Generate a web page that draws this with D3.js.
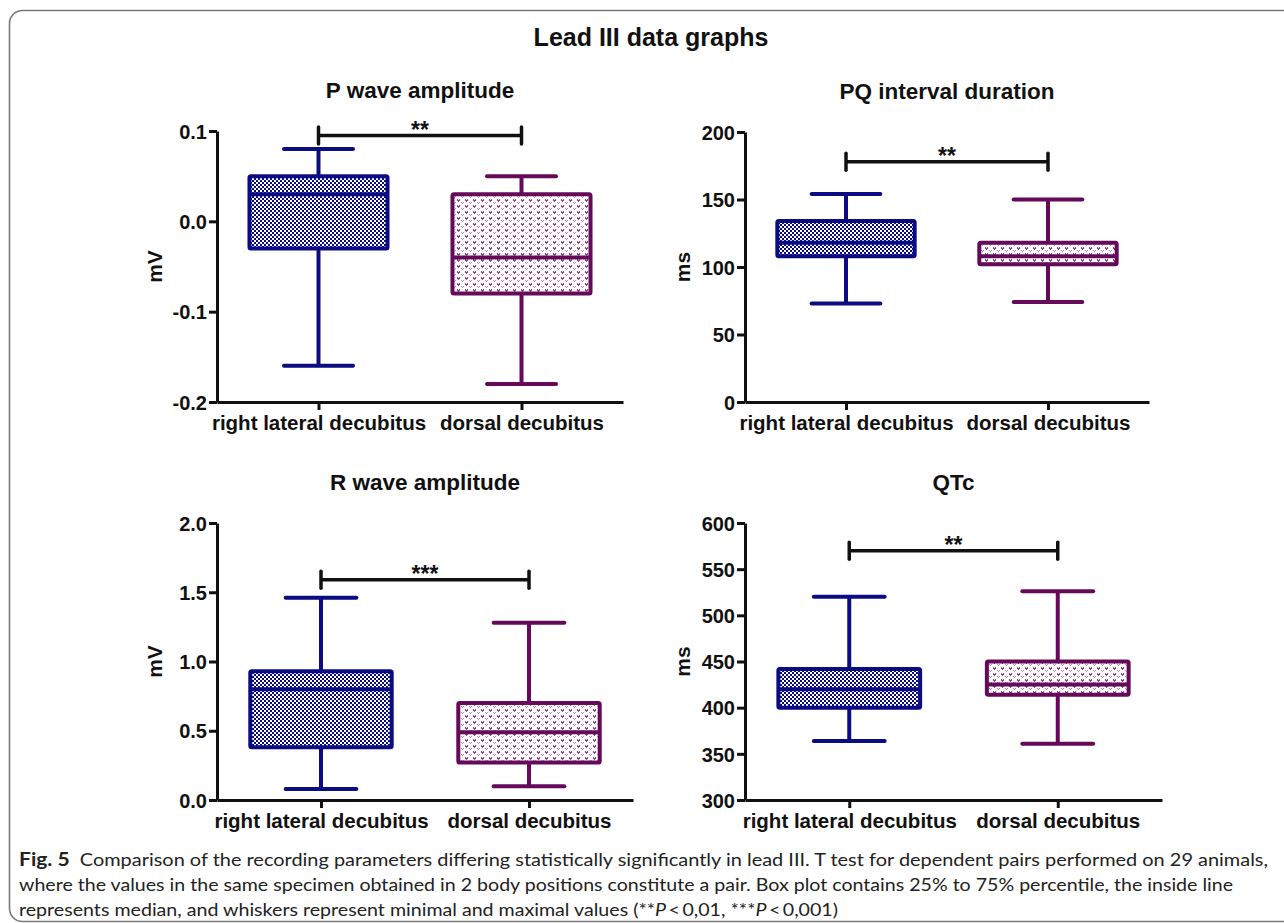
<!DOCTYPE html>
<html>
<head>
<meta charset="utf-8">
<script src="https://cdn.jsdelivr.net/npm/d3@7"></script>
<style>
  html, body { margin: 0; padding: 0; background: #fff; }
  svg { display: block; }
  text { font-family: "Liberation Sans", Arial, sans-serif; }
</style>
</head>
<body>
<script>
// ---------------- DATA ----------------
const categories = ["right lateral decubitus", "dorsal decubitus"];
// each box: [min, q1, median, q3, max]
const pWaveRight  = [-0.16, -0.03, 0.03, 0.05, 0.08];
const pWaveDorsal = [-0.18, -0.08, -0.04, 0.03, 0.05];
const pqRight     = [73, 108, 118, 134, 154];
const pqDorsal    = [74, 102, 108, 118, 150];
const rWaveRight  = [0.08, 0.38, 0.80, 0.93, 1.46];
const rWaveDorsal = [0.10, 0.27, 0.49, 0.70, 1.28];
const qtcRight    = [364, 400, 420, 442, 520];
const qtcDorsal   = [361, 414, 425, 450, 526];

const pWaveTicks = [-0.2, -0.1, 0.0, 0.1];
const pqTicks    = [0, 50, 100, 150, 200];
const rWaveTicks = [0.0, 0.5, 1.0, 1.5, 2.0];
const qtcTicks   = [300, 350, 400, 450, 500, 550, 600];

const panelTitles = ["P wave amplitude", "PQ interval duration", "R wave amplitude", "QTc"];
const yLabels     = ["mV", "ms", "mV", "ms"];
const sigLabels   = ["**", "**", "***", "**"];
const sigLevels   = [0.095, 178, 1.59, 570];

const mainTitle = "Lead III data graphs";
const captionLines = [
  [{t: "Fig. 5", b: true}, {t: "  Comparison of the recording parameters differing statistically significantly in lead III. T test for dependent pairs performed on 29 animals,"}],
  [{t: "where the values in the same specimen obtained in 2 body positions constitute a pair. Box plot contains 25% to 75% percentile, the inside line"}],
  [{t: "represents median, and whiskers represent minimal and maximal values (**"}, {t: "P", i: true}, {t: "\u2009<\u20090,01, ***"}, {t: "P", i: true}, {t: "\u2009<\u20090,001)"}]
];

// ---------------- LAYOUT / STYLE ----------------
const W = 1284, H = 923;
const BLUE = "#0c0c82", PURPLE = "#650a5a";
const panels = [
  {x0: 217, x1: 623, y0: 131, y1: 402, fmt: d => d.toFixed(1), ticks: pWaveTicks, data: [pWaveRight, pWaveDorsal]},
  {x0: 745, x1: 1149, y0: 132, y1: 402, fmt: d => String(d), ticks: pqTicks, data: [pqRight, pqDorsal]},
  {x0: 217, x1: 633, y0: 523, y1: 800, fmt: d => d.toFixed(1), ticks: rWaveTicks, data: [rWaveRight, rWaveDorsal]},
  {x0: 745, x1: 1162, y0: 523, y1: 800, fmt: d => String(d), ticks: qtcTicks, data: [qtcRight, qtcDorsal]}
];

const svg = d3.select("body").append("svg").attr("width", W).attr("height", H);

// frame
svg.append("rect").attr("x", 9.5).attr("y", 10.5).attr("width", 1300).attr("height", 911)
  .attr("rx", 13).attr("fill", "none").attr("stroke", "#7a7a7a").attr("stroke-width", 1.6);

// patterns
const defs = svg.append("defs");
const pb = defs.append("pattern").attr("id", "blueCheck").attr("patternUnits", "userSpaceOnUse")
  .attr("width", 4).attr("height", 4);
pb.append("rect").attr("width", 4).attr("height", 4).attr("fill", "#ffffff");
pb.append("rect").attr("x", 0).attr("y", 0).attr("width", 2).attr("height", 2).attr("fill", BLUE);
pb.append("rect").attr("x", 2).attr("y", 2).attr("width", 2).attr("height", 2).attr("fill", BLUE);

const pp = defs.append("pattern").attr("id", "purpleHeart").attr("patternUnits", "userSpaceOnUse")
  .attr("width", 8).attr("height", 6);
pp.append("rect").attr("width", 8).attr("height", 6).attr("fill", "#ffffff");
[[1,1],[3,1],[1,2],[2,2],[3,2],[2,3]].forEach(([px, py]) =>
  pp.append("rect").attr("x", px).attr("y", py).attr("width", 1).attr("height", 1).attr("fill", "#93408a"));
[[5,4],[7,4],[6,5]].forEach(([px, py]) =>
  pp.append("rect").attr("x", px).attr("y", py).attr("width", 1).attr("height", 1).attr("fill", "#c08ab9"));

// main title
svg.append("text").attr("x", 651).attr("y", 46).attr("text-anchor", "middle")
  .attr("font-size", 25).attr("font-weight", "bold").attr("fill", "#111").text(mainTitle);

const colors = [BLUE, PURPLE];
const fills = ["url(#blueCheck)", "url(#purpleHeart)"];

panels.forEach((p, i) => {
  const g = svg.append("g");
  const y = d3.scaleLinear().domain(d3.extent(p.ticks)).range([p.y1, p.y0]);
  const x = d3.scalePoint().domain(categories).range([p.x0, p.x1]).padding(0.5);
  const bw = x.step() * 0.68;

  // title
  g.append("text").attr("x", (p.x0 + p.x1) / 2).attr("y", p.y0 - 33).attr("text-anchor", "middle")
    .attr("font-size", 22.5).attr("font-weight", "bold").attr("fill", "#111").text(panelTitles[i]);

  // y label
  g.append("text").attr("transform", `translate(${p.x0 - 55},${(p.y0 + p.y1) / 2}) rotate(-90)`)
    .attr("text-anchor", "middle").attr("font-size", 21).attr("font-weight", "bold").attr("fill", "#111")
    .text(yLabels[i]);

  // boxes
  p.data.forEach((d, k) => {
    const cx = x(categories[k]);
    const c = colors[k];
    const [mn, q1, md, q3, mx] = d;
    const bg = g.append("g");
    bg.append("line").attr("x1", cx).attr("x2", cx).attr("y1", y(mx)).attr("y2", y(q3))
      .attr("stroke", c).attr("stroke-width", 4);
    bg.append("line").attr("x1", cx).attr("x2", cx).attr("y1", y(q1)).attr("y2", y(mn))
      .attr("stroke", c).attr("stroke-width", 4);
    [mx, mn].forEach(v => bg.append("line").attr("x1", cx - bw / 4).attr("x2", cx + bw / 4)
      .attr("y1", y(v)).attr("y2", y(v)).attr("stroke", c).attr("stroke-width", 4).attr("stroke-linecap", "round"));
    bg.append("rect").attr("x", cx - bw / 2).attr("width", bw).attr("y", y(q3)).attr("height", y(q1) - y(q3))
      .attr("fill", fills[k]).attr("stroke", c).attr("stroke-width", 4).attr("rx", 1.5);
    bg.append("line").attr("x1", cx - bw / 2).attr("x2", cx + bw / 2).attr("y1", y(md)).attr("y2", y(md))
      .attr("stroke", c).attr("stroke-width", 4);
  });

  // significance bar
  const xa = x(categories[0]), xb = x(categories[1]), yb = y(sigLevels[i]);
  g.append("line").attr("x1", xa).attr("x2", xb).attr("y1", yb).attr("y2", yb)
    .attr("stroke", "#111").attr("stroke-width", 3.5);
  [xa, xb].forEach(xx => g.append("line").attr("x1", xx).attr("x2", xx).attr("y1", yb - 8.5).attr("y2", yb + 8.5)
    .attr("stroke", "#111").attr("stroke-width", 3.5).attr("stroke-linecap", "round"));
  g.append("text").attr("x", (xa + xb) / 2).attr("y", yb + 2).attr("text-anchor", "middle")
    .attr("font-size", 23).attr("font-weight", "bold").attr("fill", "#111").text(sigLabels[i]);

  // axes
  const ya = g.append("g").attr("transform", `translate(${p.x0},0)`)
    .call(d3.axisLeft(y).tickValues(p.ticks).tickFormat(p.fmt).tickSize(8).tickSizeOuter(0).tickPadding(2));
  const xaG = g.append("g").attr("transform", `translate(0,${p.y1})`)
    .call(d3.axisBottom(x).tickSize(8).tickSizeOuter(0).tickPadding(5));
  [ya, xaG].forEach(ax => {
    ax.select(".domain").attr("stroke", "#111").attr("stroke-width", 3);
    ax.selectAll(".tick line").attr("stroke", "#111").attr("stroke-width", 3);
    ax.selectAll(".tick text").attr("fill", "#111").attr("font-size", 20).attr("font-weight", "bold")
      .attr("font-family", "'Liberation Sans', Arial, sans-serif");
  });
  ya.selectAll(".tick text").attr("dy", "0.36em");
  xaG.selectAll(".tick text").attr("font-size", 20.5);
});

// caption
const capY = [866, 891, 916];
const capW = [1249, 1214, 819];
captionLines.forEach((parts, li) => {
  const t = svg.append("text").attr("x", 19).attr("y", capY[li])
    .attr("font-size", 18).attr("fill", "#222")
    .style("font-family", "Lato, 'Open Sans', sans-serif")
    .attr("textLength", capW[li]).attr("lengthAdjust", "spacingAndGlyphs")
    .attr("xml:space", "preserve");
  parts.forEach(s => {
    const ts = t.append("tspan").text(s.t);
    if (s.b) ts.attr("font-weight", "bold").attr("font-size", 19);
    if (s.i) ts.attr("font-style", "italic");
  });
});
</script>
</body>
</html>
